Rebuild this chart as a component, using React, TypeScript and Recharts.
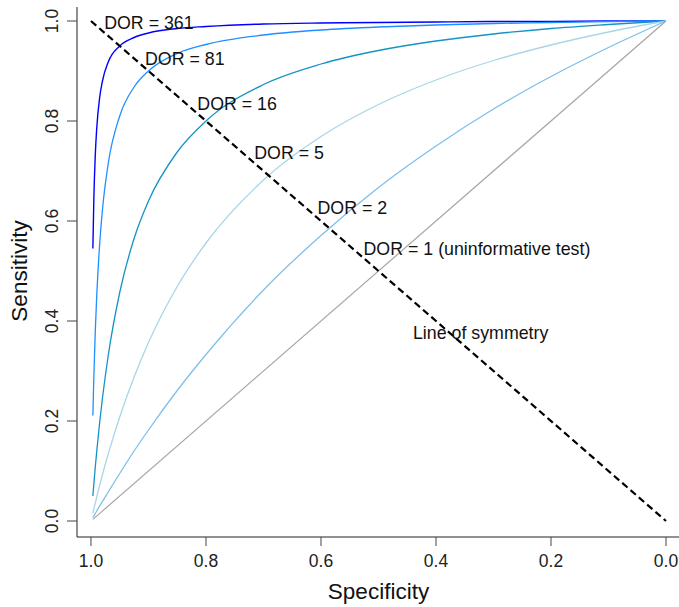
import { ComposedChart, Line, Scatter, XAxis, YAxis } from "recharts";

// specificity grid shared by the DOR curves (denser near 1.0 where they bend)
const SPEC = [0.9967, 0.995, 0.9925, 0.99, 0.985, 0.98, 0.97, 0.95, 0.925, 0.9, 0.85, 0.8, 0.7, 0.6, 0.5, 0.4, 0.3, 0.2, 0.1, 0.0];

const SENS_361 = [0.545, 0.645, 0.732, 0.785, 0.846, 0.88, 0.918, 0.95, 0.967, 0.976, 0.985, 0.989, 0.994, 0.996, 0.997, 0.998, 0.999, 0.999, 1.0, 1.0];
const SENS_81 = [0.211, 0.289, 0.38, 0.45, 0.552, 0.623, 0.715, 0.81, 0.868, 0.9, 0.935, 0.953, 0.972, 0.982, 0.988, 0.992, 0.995, 0.997, 0.999, 1.0];
const SENS_16 = [0.05, 0.074, 0.108, 0.139, 0.196, 0.246, 0.331, 0.457, 0.565, 0.64, 0.738, 0.8, 0.873, 0.914, 0.941, 0.96, 0.974, 0.985, 0.993, 1.0];
const SENS_5 = [0.016, 0.025, 0.036, 0.048, 0.071, 0.093, 0.134, 0.208, 0.288, 0.357, 0.469, 0.556, 0.682, 0.769, 0.833, 0.882, 0.921, 0.952, 0.978, 1.0];
const SENS_2 = [0.007, 0.01, 0.015, 0.02, 0.03, 0.039, 0.058, 0.095, 0.14, 0.182, 0.261, 0.333, 0.462, 0.571, 0.667, 0.75, 0.824, 0.889, 0.947, 1.0];

// DOR = 1 diagonal
const SPEC_1 = [0.9967, 0.0];
const SENS_1 = [0.0033, 1.0];

// line of symmetry
const SYM_SPEC = [1.0, 0.0];
const SYM_SENS = [1.0, 0.0];

const LABEL_TEXT = ["DOR = 361", "DOR = 81", "DOR = 16", "DOR = 5", "DOR = 2", "DOR = 1 (uninformative test)", "Line of symmetry"];
const LABEL_SPEC = [0.977, 0.906, 0.815, 0.716, 0.606, 0.526, 0.44];
const LABEL_SENS = [0.996, 0.925, 0.835, 0.736, 0.626, 0.545, 0.376];

const TICKS = [0, 0.2, 0.4, 0.6, 0.8, 1.0];

const FONT = "'Liberation Sans', Arial, Helvetica, sans-serif";

const toPoints = (xs: number[], ys: number[]) => xs.map((spec, i) => ({ spec, sens: ys[i] }));

const curves = [
    { name: "361", data: toPoints(SPEC, SENS_361), color: "#0000ff", width: 1.4 },
    { name: "81", data: toPoints(SPEC, SENS_81), color: "#1e90ff", width: 1.3 },
    { name: "16", data: toPoints(SPEC, SENS_16), color: "#1593c6", width: 1.3 },
    { name: "5", data: toPoints(SPEC, SENS_5), color: "#a8d6e8", width: 1.3 },
    { name: "2", data: toPoints(SPEC, SENS_2), color: "#7ebfec", width: 1.3 },
    { name: "1", data: toPoints(SPEC_1, SENS_1), color: "#a6a6a6", width: 1.2 },
];

const labels = LABEL_TEXT.map((text, i) => ({ text, spec: LABEL_SPEC[i], sens: LABEL_SENS[i] }));

function YTick({ x, y, payload }: { x?: number; y?: number; payload?: { value: number } }) {
    return (
        <text x={x} y={y} transform={`rotate(-90 ${x} ${y})`} textAnchor="middle"
            fontSize={17.5} fontFamily={FONT} fill="#222">
            {payload!.value.toFixed(1)}
        </text>
    );
}

function XTick({ x, y, payload }: { x?: number; y?: number; payload?: { value: number } }) {
    return (
        <text x={x} y={y} dy="0.71em" textAnchor="middle" fontSize={17.5} fontFamily={FONT} fill="#222">
            {payload!.value.toFixed(1)}
        </text>
    );
}

function TextMark(props: { cx?: number; cy?: number; payload?: { text: string } }) {
    return (
        <text x={props.cx} y={props.cy} dominantBaseline="central" fontSize={17.8}
            fontFamily={FONT} fill="#111">
            {props.payload!.text}
        </text>
    );
}

export default function App() {
    return (
        <div style={{ position: "absolute", left: 0, top: 0, background: "#fff" }}>
            <ComposedChart width={679} height={607} margin={{ top: 7, right: 0, bottom: 0, left: 0 }}>
                <XAxis
                    type="number"
                    dataKey="spec"
                    domain={[-0.0226, 1.0243]}
                    reversed
                    allowDataOverflow
                    ticks={TICKS}
                    height={70}
                    tickSize={9}
                    tickMargin={9}
                    stroke="#222"
                    tickLine={{ stroke: "#444" }}
                    tick={<XTick />}
                    label={{
                        content: () => (
                            <text x={378.5} y={599} textAnchor="middle" fontSize={22.5} fontFamily={FONT} fill="#111">
                                Specificity
                            </text>
                        ),
                    }}
                />
                <YAxis
                    type="number"
                    dataKey="sens"
                    domain={[-0.032, 1.028]}
                    allowDataOverflow
                    ticks={TICKS}
                    width={77}
                    tickSize={10}
                    tickMargin={9}
                    stroke="#222"
                    tickLine={{ stroke: "#444" }}
                    tick={<YTick />}
                    label={{
                        content: () => (
                            <text x={27} y={271} transform="rotate(-90 27 271)" textAnchor="middle"
                                fontSize={22.5} fontFamily={FONT} fill="#111">
                                Sensitivity
                            </text>
                        ),
                    }}
                />
                {curves.map((c) => (
                    <Line
                        key={c.name}
                        data={c.data}
                        dataKey="sens"
                        type="monotone"
                        stroke={c.color}
                        strokeWidth={c.width}
                        dot={false}
                        activeDot={false}
                        isAnimationActive={false}
                    />
                ))}
                <Line
                    data={toPoints(SYM_SPEC, SYM_SENS)}
                    dataKey="sens"
                    type="linear"
                    stroke="#000"
                    strokeWidth={2.2}
                    strokeDasharray="7 4"
                    dot={false}
                    activeDot={false}
                    isAnimationActive={false}
                />
                <Scatter data={labels} dataKey="sens" shape={<TextMark />} isAnimationActive={false} />
            </ComposedChart>
        </div>
    );
}
